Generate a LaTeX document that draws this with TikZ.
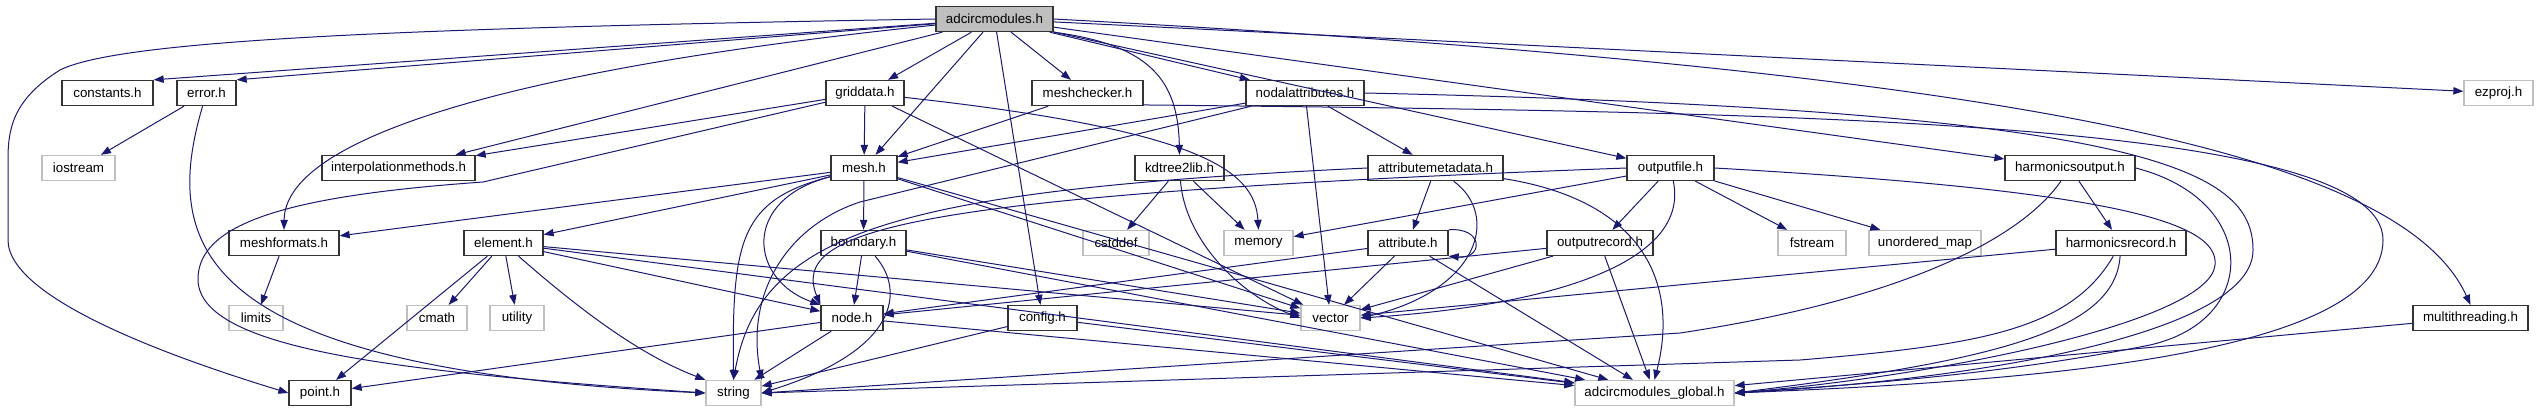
\documentclass[tikz,border=0pt]{standalone}
\usepackage{fontspec}
\setmainfont{Liberation Sans}
\usetikzlibrary{arrows.meta}
\definecolor{edgeblue}{RGB}{25,25,112}
\definecolor{grey75}{RGB}{191,191,191}

\begin{document}
\begin{tikzpicture}[x=0.75pt,y=-0.75pt,
  box/.style={rectangle,inner sep=0pt,minimum height=18.75pt,minimum width=#1*0.75pt,font=\fontsize{10}{12}\selectfont},
  hdr/.style={box=#1,draw=black!80,line width=1pt},
  sys/.style={box=#1,draw=grey75,line width=1pt},
  root/.style={box=#1,draw=black!80,fill=grey75,line width=1pt},
  dep/.style={draw=edgeblue,line width=0.75pt,-{Triangle[length=7.5pt,width=5.5pt]}}]
\useasboundingbox (0,0) rectangle (2538,411);

% top
\node[root=117] (adc) at (994.5,19) {adcircmodules.h};

% first row
\node[hdr=91] (constants) at (107.5,93) {constants.h};
\node[hdr=59] (error) at (206.5,93) {error.h};
\node[hdr=78] (griddata) at (865,93) {griddata.h};
\node[hdr=111] (meshchecker) at (1087.5,93) {meshchecker.h};
\node[hdr=118] (nodalattr) at (1305,93) {nodalattributes.h};
\node[sys=69] (ezproj) at (2498.5,93) {ezproj.h};

% second row
\node[sys=73] (iostream) at (78.5,168) {iostream};
\node[hdr=153] (interp) at (398.5,168) {interpolationmethods.h};
\node[hdr=66] (mesh) at (864,168) {mesh.h};
\node[hdr=89] (kdtree) at (1179.5,168) {kdtree2lib.h};
\node[hdr=135] (attrmeta) at (1435.5,168) {attributemetadata.h};
\node[hdr=87] (outputfile) at (1670.5,168) {outputfile.h};
\node[hdr=130] (harmout) at (2070,168) {harmonicsoutput.h};

% third row
\node[hdr=110] (meshformats) at (284,243) {meshformats.h};
\node[hdr=79] (element) at (503.5,243) {element.h};
\node[hdr=85] (boundary) at (863.5,243) {boundary.h};
\node[sys=66] (cstddef) at (1116,243) {cstddef};
\node[sys=69] (memory) at (1258.5,243) {memory};
\node[hdr=80] (attribute) at (1408,243) {attribute.h};
\node[hdr=106] (outputrecord) at (1600,243) {outputrecord.h};
\node[sys=68] (fstream) at (1812,243) {fstream};
\node[sys=112] (umap) at (1925,243) {unordered\_map};
\node[hdr=130] (harmrec) at (2121,243) {harmonicsrecord.h};

% fourth row
\node[sys=54] (limits) at (256,318) {limits};
\node[sys=60] (cmath) at (437,318) {cmath};
\node[sys=54] (utility) at (517,318) {utility};
\node[hdr=62] (node) at (852,318) {node.h};
\node[hdr=69] (config) at (1042.5,318) {config.h};
\node[sys=59] (vector) at (1330.5,318) {vector};
\node[hdr=115] (multithreading) at (2470.5,318) {multithreading.h};

% bottom row
\node[hdr=62] (point) at (320,393) {point.h};
\node[sys=55] (string) at (733.5,393) {string};
\node[sys=159] (global) at (1654.5,393) {adcircmodules\_global.h};

% adcircmodules.h
\draw[dep] (adc) -- (constants.north east);
\draw[dep] (adc) -- (error.north east);
\draw[dep] (adc.west) .. controls (400,28) and (120,40) .. (60,70) .. controls (12,100) and (8,130) .. (8,160) -- (8,240) .. controls (8,300) and (180,360) .. (point.west);
\draw[dep] (adc) .. controls (500,70) and (285,140) .. (meshformats.north);
\draw[dep] (adc) -- (interp.13);
\draw[dep] (adc) -- (griddata);
\draw[dep] (adc) -- (mesh);
\draw[dep] (adc) -- (config);
\draw[dep] (adc) -- (meshchecker);
\draw[dep] (adc.south east) .. controls (1150,45) and (1178,80) .. (kdtree.north);
\draw[dep] (adc) -- (nodalattr);
\draw[dep] (adc) -- (outputfile);
\draw[dep] (adc) -- (harmout);
\draw[dep] (adc) -- (ezproj);
\draw[dep] (adc.east) .. controls (2000,70) and (2400,150) .. (multithreading.north);

% error.h
\draw[dep] (error) -- (iostream);
\draw[dep] (error) .. controls (160,250) and (200,370) .. (string.west);

% griddata.h
\draw[dep] (griddata) -- (mesh);
\draw[dep] (griddata) -- (interp);
\draw[dep] (griddata) .. controls (1200,130) and (1255,170) .. (memory.north);
\draw[dep] (griddata) -- (vector);
\draw[dep] (griddata) -- (483,182) .. controls (300,195) and (197,220) .. (198,280) .. controls (200,350) and (400,372) .. (string.west);

% meshformats.h
\draw[dep] (meshformats) -- (limits);

% mesh.h
\draw[dep] (mesh) -- (meshformats);
\draw[dep] (mesh) -- (element);
\draw[dep] (mesh) -- (boundary);
\draw[dep] (mesh) .. controls (740,200) and (750,280) .. (node.north west);
\draw[dep] (mesh) .. controls (740,200) and (732,240) .. (string.north);
\draw[dep] (mesh) -- (vector);
\draw[dep] (mesh) -- (global);

% element.h
\draw[dep] (element) -- (cmath);
\draw[dep] (element) -- (utility);
\draw[dep] (element) -- (point);
\draw[dep] (element) .. controls (580,310) and (640,355) .. (string.north west);
\draw[dep] (element) -- (node);
\draw[dep] (element) -- (vector);
\draw[dep] (element) -- (global);

% boundary.h
\draw[dep] (boundary) -- (node);
\draw[dep] (boundary) .. controls (905,290) and (900,350) .. (string.east);
\draw[dep] (boundary) -- (vector);
\draw[dep] (boundary) -- (global);

% node.h
\draw[dep] (node) -- (point);
\draw[dep] (node) -- (string);
\draw[dep] (node) -- (global);

% config.h
\draw[dep] (config) -- (string);
\draw[dep] (config) -- (global);

% meshchecker.h
\draw[dep] (meshchecker) -- (mesh);
\draw[dep] (meshchecker.-12) .. controls (1800,112) and (2383,120) .. (2383,240) .. controls (2383,360) and (2000,382) .. (global.east);

% nodalattributes.h
\draw[dep] (nodalattr) -- (mesh);
\draw[dep] (nodalattr) -- (attrmeta);
\draw[dep] (nodalattr) -- (vector);
\draw[dep] (nodalattr) -- (860,202) .. controls (790,225) and (745,290) .. (string.north east);
\draw[dep] (nodalattr.east) .. controls (2150,110) and (2253,170) .. (2253,250) .. controls (2253,330) and (2000,378) .. (global.east);

% kdtree2lib.h
\draw[dep] (kdtree) -- (cstddef);
\draw[dep] (kdtree) -- (memory);
\draw[dep] (kdtree) .. controls (1185,240) and (1240,295) .. (vector.west);

% attributemetadata.h
\draw[dep] (attrmeta) -- (attribute);
\draw[dep] (attrmeta) .. controls (1500,215) and (1480,290) .. (vector.east);
\draw[dep] (attrmeta.west) .. controls (900,190) and (760,230) .. (string.north);
\draw[dep] (attrmeta) .. controls (1640,200) and (1680,280) .. (global.north);

% attribute.h
\draw[dep] (attribute.north east) .. controls +(35,-3) and +(35,3) .. (attribute.south east);
\draw[dep] (attribute) -- (vector);
\draw[dep] (attribute) -- (global);
\draw[dep] (attribute) -- (node);

% outputfile.h
\draw[dep] (outputfile) -- (outputrecord);
\draw[dep] (outputfile) -- (fstream);
\draw[dep] (outputfile) -- (umap);
\draw[dep] (outputfile) -- (memory);
\draw[dep] (outputfile) .. controls (1690,260) and (1560,305) .. (vector.east);
\draw[dep] (outputfile.west) .. controls (900,195) and (790,230) .. (node.north west);
\draw[dep] (outputfile.east) .. controls (2100,190) and (2220,220) .. (2215,265) .. controls (2210,320) and (1950,375) .. (global.east);

% outputrecord.h
\draw[dep] (outputrecord) -- (node);
\draw[dep] (outputrecord) -- (vector);
\draw[dep] (outputrecord) -- (global);

% harmonicsoutput.h
\draw[dep] (harmout) -- (harmrec);
\draw[dep] (harmout) .. controls (2020,240) and (1900,300) .. (1680,333) -- (string.east);
\draw[dep] (harmout.east) .. controls (2260,200) and (2260,320) .. (2150,345) .. controls (2000,375) and (1850,385) .. (global.east);

% harmonicsrecord.h
\draw[dep] (harmrec) -- (vector);
\draw[dep] (harmrec) .. controls (2115,330) and (2000,360) .. (global.east);
\draw[dep] (harmrec) .. controls (2070,330) and (1980,345) .. (1800,360) -- (string.east);

% multithreading.h
\draw[dep] (multithreading) -- (global);
\end{tikzpicture}
\end{document}
